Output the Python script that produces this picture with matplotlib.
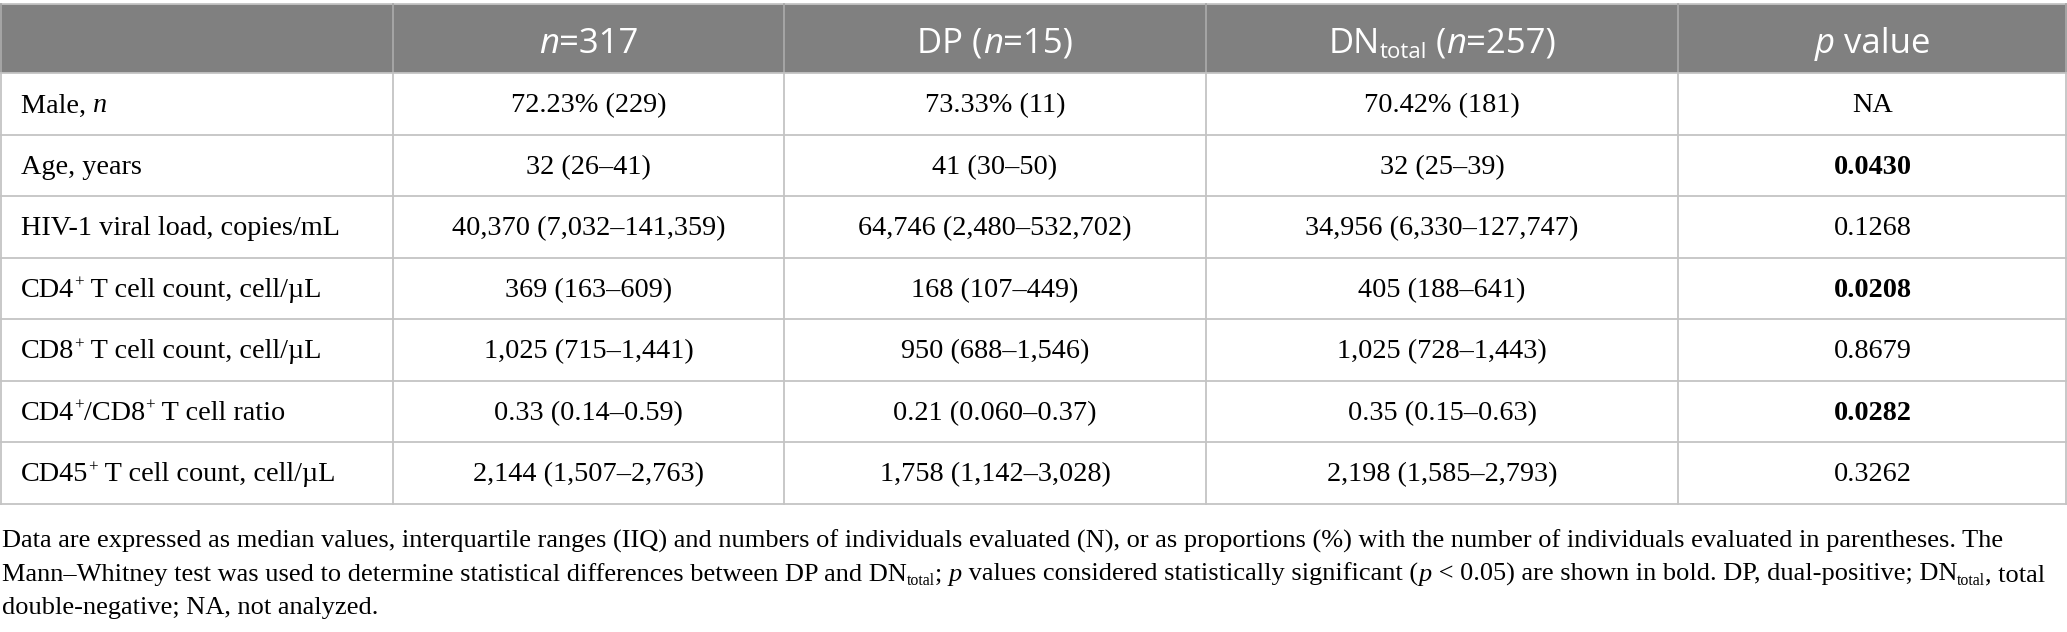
import re
import matplotlib
matplotlib.use("Agg")
import matplotlib.pyplot as plt
from matplotlib.patches import Rectangle

# ---------------- data ----------------
header_labels = ["", "*n*=317", "DP (*n*=15)", "DN_{total} (*n*=257)", "*p* value"]
row_labels = [
    "Male, *n*",
    "Age, years",
    "HIV-1 viral load, copies/mL",
    "CD4^{+} T cell count, cell/µL",
    "CD8^{+} T cell count, cell/µL",
    "CD4^{+}/CD8^{+} T cell ratio",
    "CD45^{+} T cell count, cell/µL",
]
col_all = ["72.23% (229)", "32 (26–41)", "40,370 (7,032–141,359)", "369 (163–609)",
           "1,025 (715–1,441)", "0.33 (0.14–0.59)", "2,144 (1,507–2,763)"]
col_dp = ["73.33% (11)", "41 (30–50)", "64,746 (2,480–532,702)", "168 (107–449)",
          "950 (688–1,546)", "0.21 (0.060–0.37)", "1,758 (1,142–3,028)"]
col_dn = ["70.42% (181)", "32 (25–39)", "34,956 (6,330–127,747)", "405 (188–641)",
          "1,025 (728–1,443)", "0.35 (0.15–0.63)", "2,198 (1,585–2,793)"]
p_values = ["NA", "0.0430", "0.1268", "0.0208", "0.8679", "0.0282", "0.3262"]
p_bold = [False, True, False, True, False, True, False]
footnote_lines = [
    "Data are expressed as median values, interquartile ranges (IIQ) and numbers of individuals evaluated (N), or as proportions (%) with the number of individuals evaluated in parentheses. The",
    "Mann–Whitney test was used to determine statistical differences between DP and DN_{total}; *p* values considered statistically significant (*p* < 0.05) are shown in bold. DP, dual-positive; DN_{total}, total",
    "double-negative; NA, not analyzed.",
]

# ---------------- layout ----------------
W, H, DPI = 2067, 632, 100
col_edges = [0, 393, 784, 1206, 1678, 2067]
header_top, header_bot = 4, 73
row_h = 61.5
n_rows = len(row_labels)
HEADER_BG = "#808080"
GRID = "#c4c4c4"
SERIF = ["Liberation Serif", "DejaVu Serif"]
SANS = ["Open Sans", "DejaVu Sans"]
BODY_FS = 20.3
HEAD_FS = 25.0
FOOT_FS = 20.0
FOOT_TARGET_W = 2040  # width of the first footnote line in the reference

fig = plt.figure(figsize=(W / DPI, H / DPI), dpi=DPI)
ax = fig.add_axes([0, 0, 1, 1])
ax.set_xlim(0, W)
ax.set_ylim(H, 0)
ax.axis("off")
renderer = fig.canvas.get_renderer()


def parse(s):
    runs = []
    for m in re.finditer(r"\^\{([^}]*)\}|_\{([^}]*)\}|\*([^*]*)\*|([^*^_]+)", s):
        if m.group(1) is not None:
            runs.append((m.group(1), "sup"))
        elif m.group(2) is not None:
            runs.append((m.group(2), "sub"))
        elif m.group(3) is not None:
            runs.append((m.group(3), "it"))
        else:
            runs.append((m.group(4), "rm"))
    return runs


def build(s, size, family, weight, color, small):
    px = size * DPI / 72.0
    items = []
    total = 0.0
    for txt, kind in parse(s):
        fs = size * small if kind in ("sup", "sub") else size
        style = "italic" if kind == "it" else "normal"
        t = ax.text(0, 0, txt, fontsize=fs, family=family, style=style,
                    weight=weight, color=color, va="baseline", ha="left")
        w = t.get_window_extent(renderer).width
        dy = 0.0
        if kind == "sup":
            dy = -0.36 * px
        elif kind == "sub":
            dy = 0.14 * px
        items.append((t, w, dy))
        total += w
    return items, total


def draw_rich(x, y_base, s, size, family, weight="normal", color="black", ha="center",
              small=0.6):
    items, total = build(s, size, family, weight, color, small)
    cur = x - total / 2 if ha == "center" else x
    for t, w, dy in items:
        t.set_position((cur, y_base + dy))
        cur += w


def measure(s, size, family):
    items, total = build(s, size, family, "normal", "black", 0.6)
    for t, _, _ in items:
        t.remove()
    return total


# header background
ax.add_patch(Rectangle((col_edges[0], header_top), col_edges[-1] - col_edges[0],
                       header_bot - header_top, facecolor=HEADER_BG, edgecolor="none"))

# grid lines
table_bot = header_bot + n_rows * row_h
ax.plot([0, W], [header_top, header_top], color=GRID, lw=1.3)
for i in range(n_rows + 1):
    y = header_bot + i * row_h
    ax.plot([0, W], [y, y], color=GRID, lw=1.3)
for j, xe in enumerate(col_edges):
    xe = min(max(xe, 0.8), W - 0.8)
    ax.plot([xe, xe], [header_top, header_bot], color="#a8a8a8", lw=1.3)
    ax.plot([xe, xe], [header_bot, table_bot], color=GRID, lw=1.3)

# header text
for j, lab in enumerate(header_labels):
    if lab:
        cx = (col_edges[j] + col_edges[j + 1]) / 2
        draw_rich(cx, 53, lab, HEAD_FS, SANS, color="white", small=0.64)

# body
body_cap = BODY_FS * DPI / 72 * 0.62
columns = [col_all, col_dp, col_dn, p_values]
for i in range(n_rows):
    yc = header_bot + (i + 0.5) * row_h
    yb = yc + body_cap / 2
    draw_rich(col_edges[0] + 21, yb, row_labels[i], BODY_FS, SERIF, ha="left")
    for j, col in enumerate(columns):
        cx = (col_edges[j + 1] + col_edges[j + 2]) / 2
        wt = "bold" if (j == 3 and p_bold[i]) else "normal"
        draw_rich(cx, yb, col[i], BODY_FS, SERIF, weight=wt)

# footnote (size fitted so that its lines fill the width as in the reference)
w1 = max(measure(footnote_lines[0], FOOT_FS, SERIF), measure(footnote_lines[1], FOOT_FS, SERIF))
foot_fs = FOOT_FS * FOOT_TARGET_W / w1
foot_base = [548, 581, 614]
for yb, line in zip(foot_base, footnote_lines):
    draw_rich(2, yb, line, foot_fs, SERIF, ha="left")

fig.savefig("out.png", dpi=DPI)
